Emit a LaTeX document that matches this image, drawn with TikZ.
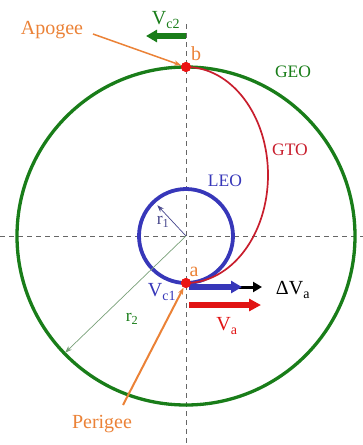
\documentclass[tikz,border=0pt]{standalone}
\usepackage{fontspec}
\setmainfont{Liberation Serif}
\usetikzlibrary{arrows.meta,calc}
\definecolor{geo}{RGB}{25,125,25}
\definecolor{leo}{RGB}{55,55,185}
\definecolor{gto}{RGB}{200,30,45}
\definecolor{org}{RGB}{235,130,55}
\definecolor{dotred}{RGB}{235,20,20}
\definecolor{arrred}{RGB}{225,20,20}
\definecolor{rtwo}{RGB}{120,160,120}
\definecolor{rone}{RGB}{70,70,140}
\begin{document}
\begin{tikzpicture}[x=1pt,y=-1pt,
  axis/.style={draw=black!60, line width=0.8pt, dash pattern=on 5pt off 4pt},
  dot/.style={circle, fill=dotred, minimum size=10pt, inner sep=0pt},
  lbl/.style={inner sep=0pt, font=\fontsize{17.5}{17.5}\selectfont},
  biglbl/.style={inner sep=0pt, font=\fontsize{20}{20}\selectfont},
  thinarr/.style={-{Stealth[length=7pt,width=5pt]}, line width=0.7pt},
  fatarr/.style={-{Triangle[length=11pt,width=12pt]}, line width=5.5pt}
]
\useasboundingbox (0,0) rectangle (363,445);
% axes
\coordinate (O) at (186,236);
\coordinate (hl) at (0,236);
\coordinate (hr) at (363,236);
\coordinate (vt) at (186,24);
\coordinate (vb) at (186,445);
\draw[axis] (hl) -- (hr);
\draw[axis] (vt) -- (vb);
% orbits
\draw[geo, line width=3.3pt] (O) circle[radius=169pt];
\draw[leo, line width=3.8pt] (O) circle[radius=47pt];
\node[dot] (b) at (186,67) {};
\node[dot] (a) at (186,283) {};
\draw[gto, line width=1.7pt] (b.center) arc[start angle=90, end angle=-90, x radius=82pt, y radius=108pt];
% radii
\coordinate (r1tip) at ($(O)+(133:42pt)$);
\coordinate (r2tip) at ($(O)+(224:168pt)$);
\draw[rone, thinarr] (O) -- (r1tip);
\draw[rtwo, thinarr] (O) -- (r2tip);
% velocity arrows
\coordinate (dvS) at (189,287);
\coordinate (dvE) at (262,287);
\coordinate (vcE) at (242,287);
\coordinate (vaS) at (189,305);
\coordinate (vaE) at (261,305);
\coordinate (vc2S) at (186,36);
\coordinate (vc2E) at (146,36);
\draw[black, -{Triangle[length=9pt,width=10pt]}, line width=3pt] (dvS) -- (dvE);
\draw[leo, fatarr] (dvS) -- (vcE);
\draw[arrred, -{Triangle[length=12pt,width=12pt]}, line width=6pt] (vaS) -- (vaE);
\draw[geo, fatarr] (vc2S) -- (vc2E);
% apogee / perigee pointers
\coordinate (apS) at (93,34);
\coordinate (peS) at (123,405);
\draw[org, thinarr, line width=1.5pt] (apS) -- (b);
\draw[org, thinarr, line width=2pt] (peS) -- (a);
\node[dot] at (b) {};
\node[dot] at (a) {};
% labels
\node[biglbl, text=org] (apogee) at (52,30) {Apogee};
\node[biglbl, text=org] (perigee) at (102,424) {Perigee};
\node[biglbl, text=geo] (vc2) at (166,20) {V\textsubscript{c2}};
\node[biglbl, text=org] (lb) at (196,54) {b};
\node[biglbl, text=org] (la) at (194,272) {a};
\node[lbl, text=geo] (geol) at (293,72) {GEO};
\node[lbl, text=gto] (gtol) at (290,150) {GTO};
\node[lbl, text=leo] (leol) at (225,181) {LEO};
\node[lbl, text=rone] (r1l) at (163,222) {r\textsubscript{1}};
\node[lbl, text=geo] (r2l) at (132,319) {r\textsubscript{2}};
\node[biglbl, text=leo] (vc1) at (162,292) {V\textsubscript{c1}};
\node[biglbl, text=black] (dva) at (293,290) {ΔV\textsubscript{a}};
\node[biglbl, text=arrred] (val) at (227,326) {V\textsubscript{a}};
\end{tikzpicture}
\end{document}
